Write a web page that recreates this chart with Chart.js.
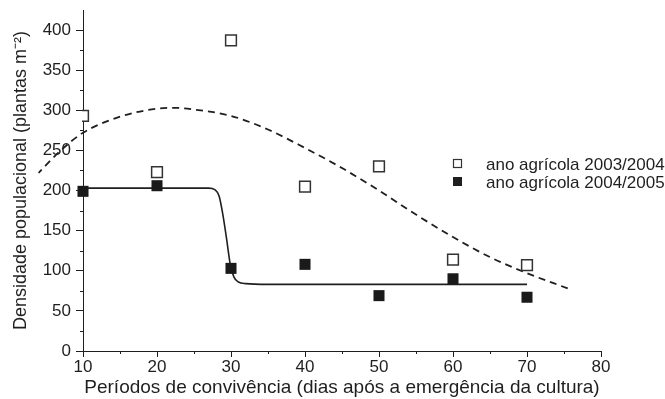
<!DOCTYPE html>
<html>
<head>
<meta charset="utf-8">
<script src="https://cdn.jsdelivr.net/npm/chart.js@4"></script>
<style>
  html, body { margin: 0; padding: 0; background: #fff; }
  #wrap { width: 665px; height: 399px; }
</style>
</head>
<body>
<div id="wrap"><canvas id="chart" width="665" height="399"></canvas></div>
<script>
// ==== DATA ====
const periods = [10, 20, 30, 40, 50, 60, 70];
const dens0304 = [293, 223, 387, 205, 230, 114, 107];
const dens0405 = [199, 206, 103, 108, 69, 90, 67];

// fitted curves
const fit0304X = [4, 7, 10, 15, 20, 22.5, 25, 30, 35, 40, 45, 50, 55, 60, 65, 70, 75.5];
const fit0304Y = [222, 250, 272, 292, 302, 303, 301, 293, 276, 253, 228, 200, 170, 142, 117, 97, 78];
const fit0405X = [10, 20, 27, 27.8, 28.4, 28.9, 29.4, 29.9, 30.4, 31, 32, 35, 40, 50, 60, 70];
const fit0405Y = [203, 203, 203, 201, 193, 170, 140, 108, 92, 86, 84, 83, 83, 83, 83, 83];

const seriesLabels = ["ano agrícola 2003/2004", "ano agrícola 2004/2005"];
const xTitle = "Períodos de convivência (dias após a emergência da cultura)";
const yTitle = "Densidade populacional (plantas m\u207B\u00B2)";

const ink = "#1f1f1f";
const fontFamily = "'Liberation Sans', Arial, sans-serif";

const toPoints = (xs, ys) => xs.map((x, i) => ({ x: x, y: ys[i] }));

// ==== MINOR TICKS + LEGEND ====
const extrasPlugin = {
    id: "extras",
    afterDraw(chart) {
        const ctx = chart.ctx;
        const xs = chart.scales.x;
        const ys = chart.scales.y;
        const area = chart.chartArea;
        ctx.save();
        ctx.strokeStyle = ink;
        ctx.lineWidth = 1;

        // minor ticks
        for (let v = 25; v < 425; v += 50) {
            const py = Math.round(ys.getPixelForValue(v)) + 0.5;
            ctx.beginPath();
            ctx.moveTo(area.left - 3, py);
            ctx.lineTo(area.left, py);
            ctx.stroke();
        }
        for (let v = 15; v < 80; v += 10) {
            const px = Math.round(xs.getPixelForValue(v)) + 0.5;
            ctx.beginPath();
            ctx.moveTo(px, area.bottom);
            ctx.lineTo(px, area.bottom + 3);
            ctx.stroke();
        }

        // legend
        ctx.font = "17px " + fontFamily;
        ctx.textBaseline = "middle";
        ctx.fillStyle = ink;
        const rows = [164, 182];
        rows.forEach((ry, i) => {
            if (i === 0) {
                ctx.lineWidth = 1.2;
                ctx.strokeStyle = "#333";
                ctx.strokeRect(453.5, ry - 4.5, 8, 8);
            } else {
                ctx.fillRect(453, ry - 5, 9, 9);
            }
            ctx.fillText(seriesLabels[i], 486, ry + 1);
        });
        ctx.restore();
    }
};

new Chart(document.getElementById("chart"), {
    type: "scatter",
    data: {
        datasets: [
            {
                label: seriesLabels[0],
                data: toPoints(periods, dens0304),
                pointStyle: "rect",
                pointRadius: 7.6,
                pointHoverRadius: 7.6,
                backgroundColor: "#fff",
                borderColor: "#333",
                borderWidth: 1.5,
                // the square at x=10 is cut by the left edge of the plot, as in the original
                clip: { left: 1, top: false, right: false, bottom: false },
                order: 1
            },
            {
                label: seriesLabels[1],
                data: toPoints(periods, dens0405),
                pointStyle: "rect",
                pointRadius: 7.8,
                pointHoverRadius: 7.8,
                backgroundColor: "#1a1a1a",
                borderColor: "#1a1a1a",
                borderWidth: 0,
                clip: false,
                order: 0
            },
            {
                label: "fit 2003/2004",
                // reversed so chart.js treats it as unsorted and keeps the part left of x=10
                data: toPoints(fit0304X, fit0304Y).reverse(),
                showLine: true,
                pointRadius: 0,
                borderColor: ink,
                borderWidth: 1.8,
                borderDash: [7, 5],
                cubicInterpolationMode: "monotone",
                clip: false,
                order: 2
            },
            {
                label: "fit 2004/2005",
                data: toPoints(fit0405X, fit0405Y),
                showLine: true,
                pointRadius: 0,
                borderColor: ink,
                borderWidth: 1.6,
                cubicInterpolationMode: "monotone",
                clip: false,
                order: 2
            }
        ]
    },
    options: {
        responsive: false,
        animation: false,
        events: [],
        layout: { padding: { left: 0, right: 64, top: 10, bottom: 0 } },
        plugins: {
            legend: { display: false },
            tooltip: { enabled: false }
        },
        scales: {
            x: {
                type: "linear",
                min: 10,
                max: 80,
                border: { display: true, color: ink, width: 1 },
                grid: { display: true, drawOnChartArea: false, drawTicks: true, tickLength: 6, color: ink },
                ticks: { stepSize: 10, color: ink, padding: 0, font: { family: fontFamily, size: 17 } },
                title: {
                    display: true, text: xTitle, color: ink,
                    font: { family: fontFamily, size: 19 },
                    padding: { top: 0, bottom: 0 }
                },
                afterFit(scale) {
                    scale.height = 48;
                    scale.paddingLeft = 0;
                    scale.paddingRight = 0;
                }
            },
            y: {
                type: "linear",
                min: 0,
                max: 425,
                border: { display: true, color: ink, width: 1 },
                grid: { display: true, drawOnChartArea: false, drawTicks: true, tickLength: 7, color: ink },
                ticks: { stepSize: 50, includeBounds: false, color: ink, padding: 5, font: { family: fontFamily, size: 17 } },
                title: {
                    display: true, text: yTitle, color: ink,
                    font: { family: fontFamily, size: 18 },
                    padding: { top: 10, bottom: 0 }
                },
                afterFit(scale) {
                    scale.width = 83;
                    scale.paddingTop = 0;
                    scale.paddingBottom = 0;
                }
            }
        }
    },
    plugins: [extrasPlugin]
});
</script>
</body>
</html>
